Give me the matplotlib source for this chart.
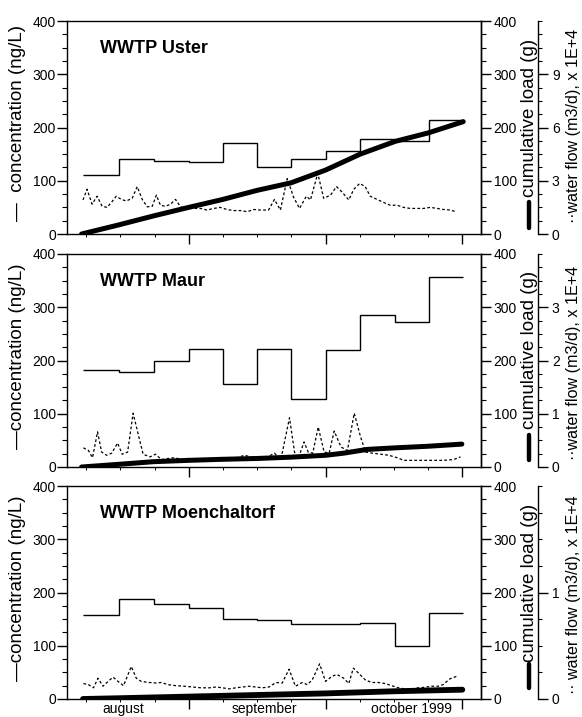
import matplotlib
matplotlib.use("Agg")
import matplotlib.pyplot as plt
from matplotlib.ticker import MultipleLocator, FixedLocator, NullFormatter
import matplotlib.transforms as mtransforms
from matplotlib.lines import Line2D

plt.rcParams['font.family'] = ['Liberation Sans', 'DejaVu Sans']

# ---------------- data ----------------
# x axis: days (30-day months: Sep 1 = 30, Oct 1 = 60, Nov 1 = 90)
step_edges = [6.8, 14.7, 22.3, 30, 37.5, 45, 52.4, 60, 67.6, 75.3, 82.6, 90.2]

names = ["WWTP Uster", "WWTP Maur", "WWTP Moenchaltorf"]

conc_uster = [110.6, 140, 137.5, 135.5, 171, 125, 140, 156, 177.5, 175, 213.5]
conc_maur = [183, 178, 200, 222, 155, 221, 127, 220, 285, 273, 357]
conc_moench = [157, 187, 178, 170, 150, 148, 140, 140, 143, 100, 162]

cum_day_uster = [6.5, 14.6, 22.3, 30, 37.5, 45, 52.4, 60, 67.6, 75.3, 82.6, 90.2]
cum_uster = [0, 17, 34, 50, 65, 82, 96, 120, 150, 174, 190, 211]
cum_day_maur = [6.5, 14.6, 22.3, 30, 37.5, 45, 52.4, 60, 64, 69.1, 75.3, 82.6, 89.9]
cum_maur = [0, 5, 10, 12.5, 14.5, 16, 18.5, 22, 26, 33, 36, 39, 43]
cum_day_moench = [6.8, 15, 22.5, 30, 37.5, 45, 52.5, 60, 67.5, 75, 82.5, 90]
cum_moench = [0, 1.5, 3, 4.5, 6, 7.5, 9, 10.5, 12.5, 14.5, 16, 17.5]

flow_day_uster = [6.8, 7.7, 8.8, 9.9, 11.0, 12.1, 13.2, 14.1, 15.2, 16.3, 17.6, 18.7, 19.8,
                  20.9, 22.0, 22.9, 23.8, 24.9, 26.0, 27.1, 28.2, 29.3, 30.4, 31.5, 32.6,
                  34.0, 35.5, 36.9, 38.4, 39.9, 41.3, 42.8, 44.3, 45.7, 47.5, 48.8, 50.1,
                  51.6, 53.0, 54.3, 55.8, 56.7, 58.3, 59.6, 61.1, 62.4, 63.6, 65.1, 66.2,
                  67.5, 68.7, 69.8, 71.3, 72.8, 74.2, 75.7, 77.1, 78.6, 80.1, 81.5, 83.0,
                  84.5, 85.9, 87.4, 88.5]
flow_uster = [1.92, 2.52, 1.68, 2.13, 1.56, 1.50, 1.83, 2.13, 1.95, 1.86, 2.01, 2.67, 1.95,
              1.53, 1.56, 2.19, 1.62, 1.56, 1.68, 1.95, 1.53, 1.44, 1.56, 1.44, 1.44,
              1.35, 1.44, 1.50, 1.38, 1.32, 1.32, 1.26, 1.38, 1.35, 1.35, 1.95, 1.35,
              3.12, 2.07, 1.44, 2.13, 1.92, 3.42, 2.01, 2.19, 2.67, 2.37, 1.92, 2.52,
              2.85, 2.67, 2.13, 1.95, 1.77, 1.62, 1.62, 1.50, 1.44, 1.44, 1.44, 1.50,
              1.44, 1.38, 1.35, 1.26]

flow_day_maur = [6.9, 8.0, 8.9, 10.0, 10.9, 12.0, 13.1, 14.4, 15.4, 16.6,
                 17.8, 18.9, 20.0, 21.5, 22.7, 24.0, 25.5, 26.9, 28.4, 29.9,
                 32.0, 34.2, 36.4, 38.6, 40.8, 42.2, 44.1, 45.9, 47.3, 48.8,
                 50.2, 52.1, 53.2, 54.0, 55.3, 56.2, 57.2, 58.4, 59.7, 60.8,
                 61.9, 63.4, 64.8, 66.3, 67.7, 68.8, 70.3, 72.1, 73.9, 75.7,
                 77.2, 79.4, 81.6, 83.8, 85.9, 88.1, 89.6]
flow_maur = [0.36, 0.31, 0.175, 0.66, 0.28, 0.22, 0.26, 0.45, 0.24, 0.28,
             1.01, 0.62, 0.24, 0.19, 0.24, 0.14, 0.16, 0.175, 0.14, 0.16,
             0.15, 0.14, 0.15, 0.16, 0.18, 0.22, 0.18, 0.17, 0.19, 0.26,
             0.14, 0.925, 0.28, 0.16, 0.47, 0.28, 0.26, 0.75, 0.28, 0.26,
             0.675, 0.375, 0.31, 1.01, 0.56, 0.28, 0.26, 0.24, 0.22, 0.175,
             0.125, 0.125, 0.125, 0.125, 0.125, 0.14, 0.19]

flow_day_moench = [6.9, 8.0, 9.1, 10.1, 11.2, 12.3, 13.4, 14.5, 15.7, 17.4,
                   18.5, 19.6, 21.4, 22.9, 24.0, 25.4, 27.2, 29.1, 30.9, 32.7,
                   34.5, 36.0, 37.4, 38.9, 40.3, 41.8, 43.2, 44.7, 46.1, 47.6,
                   49.1, 50.5, 52.0, 53.4, 54.9, 56.0, 57.1, 58.7, 60.0, 61.4,
                   62.5, 64.0, 65.1, 66.1, 67.2, 68.7, 70.1, 71.6, 73.1, 74.5,
                   76.0, 77.4, 78.9, 80.3, 81.8, 83.2, 84.7, 85.8, 87.2, 88.7]
flow_moench = [0.145, 0.135, 0.105, 0.195, 0.12, 0.165, 0.205, 0.165, 0.125, 0.305,
               0.195, 0.165, 0.155, 0.15, 0.155, 0.135, 0.125, 0.12, 0.1125, 0.105,
               0.105, 0.1125, 0.105, 0.095, 0.105, 0.1125, 0.12, 0.1125, 0.105, 0.1125,
               0.155, 0.15, 0.28, 0.12, 0.155, 0.135, 0.18, 0.33, 0.165, 0.2125,
               0.23, 0.195, 0.145, 0.29, 0.245, 0.18, 0.155, 0.155, 0.145, 0.125,
               0.105, 0.095, 0.095, 0.105, 0.11, 0.12, 0.12, 0.135, 0.1875, 0.2125]

flow_max = [12, 4, 2]
flow_major = [[0, 3, 6, 9], [0, 1, 2, 3], [0, 1]]
flow_minor_step = [0.75, 0.25, 0.25]

month_ticks = [30, 60, 90]
month_labels = ["august", "september", "october 1999"]
month_label_pos = [15.6, 46.7, 78.9]

conc_label = ["\u2014  concentration (ng/L)", "\u2014concentration (ng/L)", "\u2014concentration (ng/L)"]
cum_label = "cumulative load (g)"
flow_label = ["\u00b7\u00b7water flow (m3/d), x 1E+4", "\u00b7\u00b7water flow (m3/d), x 1E+4",
              "\u00b7\u00b7 water flow (m3/d), x 1E+4"]

concs = [conc_uster, conc_maur, conc_moench]
cum_days = [cum_day_uster, cum_day_maur, cum_day_moench]
cums = [cum_uster, cum_maur, cum_moench]
flow_days = [flow_day_uster, flow_day_maur, flow_day_moench]
flows = [flow_uster, flow_maur, flow_moench]

# ---------------- figure ----------------
W, H = 582, 717
fig = plt.figure(figsize=(W / 100, H / 100), dpi=100)

left_px, right_px, third_px = 67, 481, 538
panel_px = [(21, 234), (254, 467), (486, 699)]
thick_lw = [3.6, 3.6, 4.2]
key_span = [(0.03, 0.15), (0.035, 0.15), (0.05, 0.165)]
cum_text_y = [0.175, 0.18, 0.172]
flow_label_y = [0.505, 0.49, 0.49]

for i in range(3):
    top, bot = panel_px[i]
    ax = fig.add_axes([left_px / W, 1 - bot / H, (right_px - left_px) / W, (bot - top) / H])
    ax.set_xlim(3.3, 94.1)
    ax.set_ylim(0, 400)
    ax.patch.set_visible(False)

    # concentration steps
    ax.stairs(concs[i], step_edges, baseline=None, color='black', lw=1.0)

    ax.yaxis.set_major_locator(MultipleLocator(100))
    ax.yaxis.set_minor_locator(MultipleLocator(25))
    ax.xaxis.set_major_locator(FixedLocator(month_ticks))
    ax.xaxis.set_minor_locator(MultipleLocator(7.5))
    ax.xaxis.set_major_formatter(NullFormatter())
    ax.tick_params(axis='y', which='major', direction='out', length=7, width=1, labelsize=10, pad=1)
    ax.tick_params(axis='y', which='minor', direction='out', length=3.5, width=0.8)
    ax.tick_params(axis='x', which='major', direction='out', length=7, width=1)
    ax.tick_params(axis='x', which='minor', direction='out', length=2.5, width=0.7)
    for s in ax.spines.values():
        s.set_linewidth(1.0)
    ax.set_ylabel(conc_label[i], fontsize=13.5)
    ax.yaxis.set_label_coords(-0.10, 0.52)

    ax.text(0.08, 0.85, names[i], transform=ax.transAxes, fontsize=13,
            fontweight='bold', va='baseline', ha='left')

    # water flow axis (third)
    ax3 = ax.twinx()
    ax3.spines['right'].set_position(('axes', (third_px - left_px) / (right_px - left_px)))
    for k in ('left', 'top', 'bottom'):
        ax3.spines[k].set_visible(False)
    ax3.spines['right'].set_linewidth(1.0)
    ax3.set_ylim(0, flow_max[i])
    ax3.plot(flow_days[i], flows[i], color='black', lw=0.9, linestyle=(0, (2.2, 1.8)))
    ax3.yaxis.set_major_locator(FixedLocator(flow_major[i]))
    ax3.yaxis.set_minor_locator(MultipleLocator(flow_minor_step[i]))
    ax3.tick_params(axis='y', which='major', direction='out', length=7, width=1, labelsize=10, pad=3)
    ax3.tick_params(axis='y', which='minor', direction='out', length=3, width=0.8)
    ax3.set_ylabel(flow_label[i], fontsize=11.6)
    ax3.yaxis.set_label_coords(1.205, flow_label_y[i])

    # cumulative load axis
    ax2 = ax.twinx()
    for k in ('left', 'top', 'bottom'):
        ax2.spines[k].set_visible(False)
    ax2.spines['right'].set_linewidth(1.0)
    ax2.set_ylim(0, 400)
    ax2.plot(cum_days[i], cums[i], color='black', lw=thick_lw[i], solid_capstyle='round')
    ax2.yaxis.set_major_locator(MultipleLocator(100))
    ax2.yaxis.set_minor_locator(MultipleLocator(25))
    ax2.tick_params(axis='y', which='major', direction='out', length=7, width=1, labelsize=10, pad=2)
    ax2.tick_params(axis='y', which='minor', direction='out', length=3.5, width=0.8)
    # label with its line key
    ax2.text(1.116, cum_text_y[i], cum_label, transform=ax2.transAxes, rotation=90,
             ha='center', va='bottom', fontsize=13.5)
    ax2.add_line(Line2D([1.116, 1.116], list(key_span[i]), transform=ax2.transAxes,
                        color='black', lw=3.2, solid_capstyle='round', clip_on=False))

    if i == 2:
        trans = mtransforms.blended_transform_factory(ax.transData, ax.transAxes)
        for xp, lab in zip(month_label_pos, month_labels):
            ax.text(xp, -0.014, lab, transform=trans, ha='center', va='top', fontsize=10)

fig.savefig("out.png", dpi=100)
